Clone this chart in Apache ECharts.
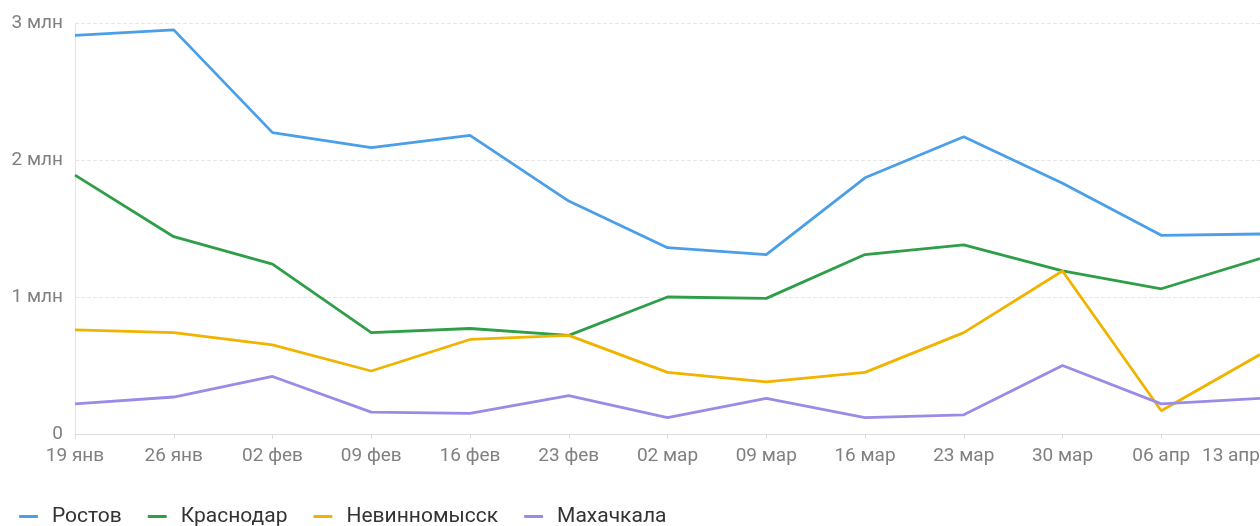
<!DOCTYPE html>
<html><head><meta charset="utf-8">
<script src="https://cdn.jsdelivr.net/npm/echarts@6/dist/echarts.min.js"></script>
<style>html,body{margin:0;padding:0;background:#fff}#c{width:1260px;height:526px}</style>
</head><body><div id="c"></div>
<script>
const categories = ['19 янв','26 янв','02 фев','09 фев','16 фев','23 фев','02 мар','09 мар','16 мар','23 мар','30 мар','06 апр','13 апр'];
const rostov      = [2.91,2.95,2.20,2.09,2.18,1.70,1.36,1.31,1.87,2.17,1.83,1.45,1.46];
const krasnodar   = [1.89,1.44,1.24,0.74,0.77,0.72,1.00,0.99,1.31,1.38,1.19,1.06,1.28];
const nevinnomyssk= [0.76,0.74,0.65,0.46,0.69,0.72,0.45,0.38,0.45,0.74,1.19,0.17,0.58];
const makhachkala = [0.22,0.27,0.42,0.16,0.15,0.28,0.12,0.26,0.12,0.14,0.50,0.22,0.26];
const yTicks = ['0','1 млн','2 млн','3 млн'];
const seriesNames = ['Ростов','Краснодар','Невинномысск','Махачкала'];
const colors = ['#4a9fe8','#2e9e48','#f0b400','#9b8be6'];

const chart = echarts.init(document.getElementById('c'), null, {renderer:'canvas'});
const font = 'Roboto, "Noto Sans", sans-serif';
chart.setOption({
  animation:false,
  color: colors,
  grid:{left:75,right:0,top:23,bottom:92,containLabel:false,outerBoundsMode:'none'},
  legend:{
    left:14, top:501, itemGap:26, itemWidth:19, itemHeight:3, icon:'roundRect',
    textStyle:{fontFamily:font,fontSize:21,color:'#333',padding:[0,0,0,9]},
    data: seriesNames
  },
  xAxis:{
    type:'category', boundaryGap:false, data:categories,
    axisLine:{lineStyle:{color:'#dcdcdc'}},
    axisTick:{show:true,length:5,lineStyle:{color:'#dcdcdc'}},
    axisLabel:{interval:0,fontFamily:font,fontSize:19,color:'#808080',margin:13,hideOverlap:false,alignMaxLabel:'right'}
  },
  yAxis:{
    type:'value', min:0, max:3, interval:1,
    axisLine:{show:true,lineStyle:{color:'#e4e4e4'}},
    axisTick:{show:false},
    splitLine:{lineStyle:{type:'dashed',color:'#e6e6e6'}},
    axisLabel:{fontFamily:font,fontSize:19,color:'#808080',margin:12,
      formatter:(v)=>yTicks[Math.round(v)]}
  },
  series:[
    {name:seriesNames[0],type:'line',data:rostov},
    {name:seriesNames[1],type:'line',data:krasnodar},
    {name:seriesNames[2],type:'line',data:nevinnomyssk},
    {name:seriesNames[3],type:'line',data:makhachkala}
  ].map(s=>Object.assign(s,{showSymbol:false,symbol:'none',lineStyle:{width:2.8},emphasis:{disabled:true}}))
});
</script></body></html>
